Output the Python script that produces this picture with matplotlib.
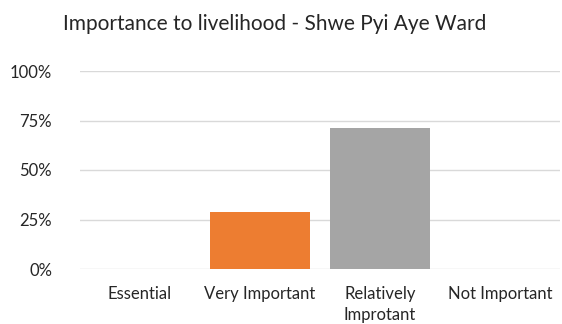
import matplotlib.pyplot as plt
from matplotlib.ticker import PercentFormatter

categories = ["Essential", "Very Important", "Relatively\nImprotant", "Not Important"]
values = [0.0, 2 / 7, 5 / 7, 0.0]
colors = ["#4472C4", "#ED7D31", "#A5A5A5", "#FFC000"]
yticks = [0, 0.25, 0.5, 0.75, 1.0]

plt.rcParams["font.family"] = ["Lato", "DejaVu Sans"]

fig = plt.figure(figsize=(5.62, 3.24), dpi=100)
ax = fig.add_axes([80 / 562, 1 - 269 / 324, 480 / 562, 198 / 324])

x = range(len(categories))
ax.bar(x, values, width=0.83, color=colors, zorder=3)

ax.set_xlim(-0.5, len(categories) - 0.5)
ax.set_ylim(0, 1.0)
ax.set_yticks(yticks)
ax.yaxis.set_major_formatter(PercentFormatter(1.0, decimals=0))
ax.set_xticks(list(x))
ax.set_xticklabels(categories, fontsize=12, color="#262626", linespacing=1.4)
ax.tick_params(axis="y", labelsize=12, colors="#262626", length=0, pad=20)
ax.tick_params(axis="x", length=0, pad=12)
ax.grid(axis="y", color="#D9D9D9", linewidth=1, zorder=0)
for s in ax.spines.values():
    s.set_visible(False)

fig.text(275 / 562, 1 - 24 / 324, "Importance to livelihood - Shwe Pyi Aye Ward",
         ha="center", va="center", fontsize=15, color="#262626")

fig.savefig("out.png", dpi=100)
